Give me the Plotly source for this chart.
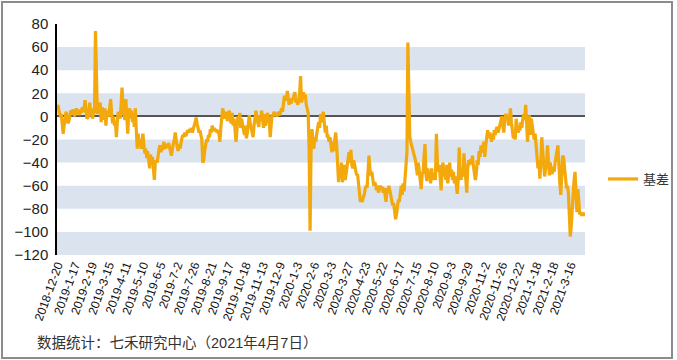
import plotly.graph_objects as go

tick_labels = ["2018-12-20", "2019-1-17", "2019-2-19", "2019-3-15", "2019-4-11", "2019-5-10",
               "2019-6-5", "2019-7-2", "2019-7-26", "2019-8-21", "2019-9-17", "2019-10-18",
               "2019-11-13", "2019-12-9", "2020-1-3", "2020-2-6", "2020-3-3", "2020-3-27",
               "2020-4-23", "2020-5-22", "2020-6-17", "2020-7-15", "2020-8-10", "2020-9-3",
               "2020-9-29", "2020-11-2", "2020-11-26", "2020-12-22", "2021-1-18", "2021-2-18",
               "2021-3-16"]
tick_step = 18  # trading days between labelled dates

series_name = "基差"
basis_2019a = [10, 8, 3, 1, 2, -5, -15, -8, 2, 4, 0, -6, -4, 3,
               5, 2, 6, 3, 0, 4, 7, 2, 5, 1, 6, 3, 8, 4,
               6, 14, 5, -2, -1, 3, 12, 0, 7, -2, 4, 3, 74, 20,
               2, 12, 5, 12, -5, 8, 3,
               -3, 7, -8, 2, 5, 0, 8, 15, 3, -6, 0, -8, -4, -18, -5, 4, 2, -2, 10, 25, 5, 0, -3,
               15, 2, -15, 3, 7, -2, 5, -5, -2, -9, 7, -12, -28, -15, -24, -20, -28, -22]
basis_2019b = [-15, -25, -32, -28, -36, -30, -38, -45, -33, -40, -35, -45, -55, -40, -38, -40,
               -32, -28, -25, -31, -26, -29, -22, -26, -28, -24, -27, -23, -28, -30, -34, -28,
               -25, -20, -14, -22, -26, -30, -24, -28, -22, -19, -16, -18, -14, -17, -15, -12,
               -14, -11, -13, -10, -14, -9, -8, -5, -1, -6, -10, -14, -12, -15, -20, -40, -38,
               -30, -25, -20, -22, -16, -18, -11, -14, -8, -12, -10, -13, -11, -14, -12, -15,
               -22, -10, 0, 7, 3, -2, 4, 0, -4, 2, 5, -3, -6]
basis_2019c = [3, -8, -2, -10, -22, -12, 0, -4, 3, -10, -2, -8, -12, -16, -8, -19, -14, -5, 1,
               -6, -10, -14, -18, -8, 0, 5, -2, -6, -9, 1, -4, 5, -3, -10, 2, -8, -4, 3, 0, -3,
               -18, -8, 2, 0, 4, 1, 3, 0, 2, 4, 1, 5, 7, 4, 12, 18, 15, 14, 22, 13, 10, 15, 11,
               16, 14, 18, 21, 12, 15, 10, 13, 20, 35, 12, 18, 21, 15, 19, 10, 5, 3, -30, -99,
               -31, -11, -20, -28, -18, -22, -15, -10, -5, -10, 2, -5]
basis_2020a = [0, 4, -6, -14, -8, -17, -17, -22, -18, -25, -31, -22, -30, -20, -14, -25, -40,
               -57, -45, -52, -40, -57, -48, -42, -55, -50, -45, -37, -31, -40, -29, -42, -45,
               -38, -44, -47, -51, -50, -60, -65, -74, -72, -74, -70, -68, -63, -60, -62, -45,
               -34, -45, -51, -48, -55, -60, -57, -59, -64, -60, -66, -62, -60, -63, -61, -66,
               -62, -68, -74, -62, -66, -60, -64, -71, -75, -77, -75, -83, -89, -85, -75, -72,
               -74, -68, -60, -68, -58, -65, -51, -40, -31, 64, -5, -17, -22]
basis_2020b = [-25, -28, -30, -35, -38, -45, -51, -40, -48, -55, -63, -50, -48, -35, -24, -50,
               -56, -45, -54, -48, -58, -45, -55, -52, -49, -55, -15, -38, -48, -42, -50, -64,
               -45, -40, -52, -47, -55, -42, -58, -50, -40, -52, -46, -55, -48, -58, -52, -60,
               -67, -55, -27, -48, -55, -45, -52, -32, -45, -55, -66, -45, -38, -42, -37, -40,
               -34, -43, -48, -55, -50, -38, -42, -30, -35, -25, -31, -28, -22, -35, -25, -18,
               -12, -19, -14, -17, -22, -15, -20, -12, -16, -11, -9, -14, -10, -7, -2]
basis_2021 = [0, -8, -14, -3, 2, 0, 1, -8, 3, 7, -5, -12, -19, -16, -20, -2, -10, -14, -11,
              -12, -5, -10, -2, 2, -3, 10, -5, -22, -10, 1, -16, -2, -8, -14, -20, -15, -25,
              -34, -45, -38, -54, -40, -18, -30, -48, -52, -45, -40, -25, -45, -51, -40, -47,
              -50, -44, -48, -40, -33, -30, -25, -45, -58, -68, -40, -34, -36, -45, -55, -62,
              -60, -66, -85, -104, -95, -77, -70, -55, -48, -65, -83, -63, -75, -85, -83, -86,
              -84, -86, -83]

values = basis_2019a + basis_2019b + basis_2019c + basis_2020a + basis_2020b + basis_2021
x_idx = list(range(len(values)))
tick_vals = [i * tick_step for i in range(len(tick_labels))]

band_ranges = [(40, 60), (0, 20), (-40, -20), (-80, -60), (-120, -100)]

FONT = "Liberation Sans, Arial, Noto Sans CJK SC, sans-serif"
LINE_COLOR = "#F3A80C"

fig = go.Figure()
fig.add_trace(go.Scatter(x=x_idx, y=values, mode="lines", name=series_name,
                         line=dict(color=LINE_COLOR, width=3.2)))

shapes = []
for lo, hi in band_ranges:
    shapes.append(dict(type="rect", xref="paper", yref="y", x0=0, x1=1, y0=lo, y1=hi,
                       fillcolor="#DAE3EE", line=dict(width=0), layer="below"))
# outer frame
shapes.append(dict(type="rect", xref="paper", yref="paper",
                   x0=(2 - 57) / 528, x1=(672 - 57) / 528,
                   y0=(255 - 358) / 231, y1=(255 - 2) / 231,
                   line=dict(color="#8C8C8C", width=2), fillcolor="rgba(0,0,0,0)", layer="below"))

fig.update_layout(
    width=677, height=360,
    margin=dict(l=57, r=92, t=24, b=105, autoexpand=False),
    paper_bgcolor="white", plot_bgcolor="white",
    font=dict(family=FONT, color="#222222"),
    shapes=shapes,
    showlegend=True,
    legend=dict(x=(603 - 57) / 528, y=(255 - 179) / 231, xanchor="left", yanchor="middle",
                font=dict(size=13, color="#333333"), bgcolor="rgba(0,0,0,0)"),
    xaxis=dict(range=[-0.5, len(values) - 0.5], tickmode="array", tickvals=tick_vals,
               ticktext=tick_labels, tickangle=-70, tickfont=dict(size=12, color="#111111"),
               showgrid=False, zeroline=False, showline=False, ticks="", automargin=False),
    yaxis=dict(range=[-120, 80], dtick=20, tick0=0, tickfont=dict(size=15, color="#222222"),
               showgrid=False, zeroline=True, zerolinecolor="#555555", zerolinewidth=1.5,
               showline=True, linecolor="#000000", linewidth=1.5, ticks="", ticklabelstandoff=4,
               automargin=False),
    annotations=[dict(text="数据统计：七禾研究中心（2021年4月7日）", xref="paper", yref="paper",
                      x=(35 - 57) / 528, y=(255 - 343) / 231, xanchor="left", yanchor="middle",
                      showarrow=False, font=dict(size=14.5, color="#333333"))],
)

fig.write_html("out.html", config={"displayModeBar": False},
               post_script="document.body.style.margin='0';")
